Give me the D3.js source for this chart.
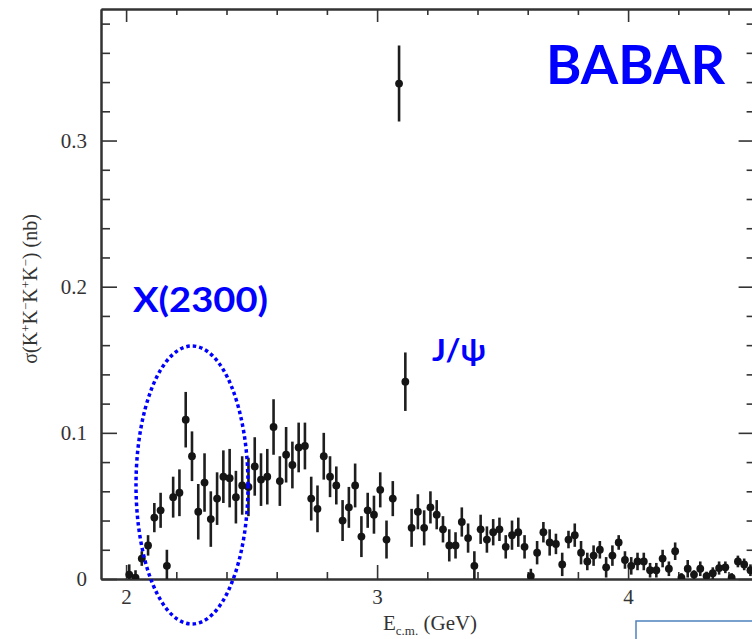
<!DOCTYPE html>
<html>
<head>
<meta charset="utf-8">
<script src="https://cdn.jsdelivr.net/npm/d3@7"></script>
<style>
  body { margin: 0; background: #fff; }
  svg { display: block; }
</style>
</head>
<body>
<div id="chart"></div>
<script>
// bin centres (GeV), 25 MeV bins
const energy = [
  2.0125, 2.0375, 2.0625, 2.0875, 2.1125, 2.1375, 2.1625, 2.1875, 2.2125, 2.2375,
  2.2625, 2.2875, 2.3125, 2.3375, 2.3625, 2.3875, 2.4125, 2.4375, 2.4625, 2.4875,
  2.5125, 2.5375, 2.5625, 2.5875, 2.6125, 2.6375, 2.6625, 2.6875, 2.7125, 2.7375,
  2.7625, 2.7875, 2.8125, 2.8375, 2.8625, 2.8875, 2.9125, 2.9375, 2.9625, 2.9875,
  3.0125, 3.0375, 3.0625, 3.0875, 3.1125, 3.1375, 3.1625, 3.1875, 3.2125, 3.2375,
  3.2625, 3.2875, 3.3125, 3.3375, 3.3625, 3.3875, 3.4125, 3.4375, 3.4625, 3.4875,
  3.5125, 3.5375, 3.5625, 3.5875, 3.6125, 3.6375, 3.6625, 3.6875, 3.7125, 3.7375,
  3.7625, 3.7875, 3.8125, 3.8375, 3.8625, 3.8875, 3.9125, 3.9375, 3.9625, 3.9875,
  4.0125, 4.0375, 4.0625, 4.0875, 4.1125, 4.1375, 4.1625, 4.1875, 4.2125, 4.2375,
  4.2625, 4.2875, 4.3125, 4.3375, 4.3625, 4.3875, 4.4125, 4.4375, 4.4625, 4.4875
];

// cross section (nb)
const sigma = [
  0.003, 0.001, 0.014, 0.023, 0.042, 0.047, 0.009, 0.056, 0.059, 0.109,
  0.084, 0.046, 0.066, 0.041, 0.055, 0.070, 0.069, 0.056, 0.064, 0.063,
  0.077, 0.068, 0.070, 0.104, 0.067, 0.085, 0.078, 0.090, 0.091, 0.055,
  0.048, 0.084, 0.070, 0.064, 0.040, 0.049, 0.064, 0.029, 0.047, 0.044,
  0.061, 0.027, 0.055, 0.339, 0.135, 0.035, 0.046, 0.035, 0.049, 0.044,
  0.034, 0.023, 0.023, 0.039, 0.028, 0.009, 0.034, 0.027, 0.032, 0.034,
  0.022, 0.030, 0.032, 0.022, 0.002, 0.018, 0.032, 0.025, 0.024, 0.010,
  0.027, 0.030, 0.018, 0.012, 0.016, 0.020, 0.008, 0.016, 0.025, 0.013,
  0.009, 0.012, 0.012, 0.006, 0.006, 0.014, 0.007, 0.019, 0.001, 0.007,
  0.003, 0.007, 0.002, 0.004, 0.0075, 0.008, 0.001, 0.012, 0.010, 0.006
];

const sigmaErr = [
  0.007, 0.005, 0.005, 0.007, 0.010, 0.012, 0.011, 0.014, 0.016, 0.019,
  0.017, 0.019, 0.020, 0.019, 0.018, 0.018, 0.020, 0.018, 0.020, 0.020,
  0.020, 0.018, 0.019, 0.019, 0.017, 0.019, 0.016, 0.017, 0.016, 0.015,
  0.016, 0.016, 0.014, 0.013, 0.014, 0.014, 0.015, 0.014, 0.012, 0.013,
  0.012, 0.013, 0.012, 0.026, 0.020, 0.013, 0.012, 0.012, 0.011, 0.010,
  0.009, 0.011, 0.009, 0.010, 0.010, 0.010, 0.010, 0.009, 0.009, 0.008,
  0.008, 0.010, 0.010, 0.008, 0.005, 0.008, 0.007, 0.009, 0.007, 0.008,
  0.006, 0.008, 0.008, 0.006, 0.007, 0.006, 0.007, 0.007, 0.005, 0.006,
  0.006, 0.006, 0.006, 0.005, 0.005, 0.006, 0.005, 0.006, 0.003, 0.006,
  0.003, 0.005, 0.003, 0.004, 0.0045, 0.004, 0.003, 0.004, 0.004, 0.004
];

const xMajor = [2, 3, 4];
const xMinor = [2.2, 2.4, 2.6, 2.8, 3.2, 3.4, 3.6, 3.8, 4.2, 4.4];
const yMajor = [0, 0.1, 0.2, 0.3];
const yMinor = [0.02, 0.04, 0.06, 0.08, 0.12, 0.14, 0.16, 0.18, 0.22, 0.24, 0.26, 0.28, 0.32, 0.34, 0.36, 0.38];

const data = energy.map((e, i) => ({ e: e, s: sigma[i], err: sigmaErr[i] }));

const width = 752;
const height = 639;
const margin = { top: 9, left: 101 };
const plotW = 652.6;
const plotH = 570;

const svg = d3.select("#chart")
    .append("svg")
    .attr("width", width)
    .attr("height", height);

const x = d3.scaleLinear().domain([1.9, 4.5]).range([0, plotW]);
const y = d3.scaleLinear().domain([0, 0.39]).range([plotH, 0]);

const g = svg.append("g")
    .attr("transform", `translate(${margin.left},${margin.top})`);

g.append("clipPath").attr("id", "plotclip")
    .append("rect").attr("width", plotW).attr("height", plotH);

const frameColor = "#333";
const labelFont = "'Liberation Serif', 'Times New Roman', serif";

function styleAxis(sel) {
    sel.selectAll("path.domain").attr("stroke", frameColor).attr("stroke-width", 2);
    sel.selectAll(".tick line").attr("stroke", frameColor).attr("stroke-width", 1.6);
    sel.selectAll(".tick text")
        .attr("fill", "#333")
        .style("font-family", labelFont)
        .style("font-size", "21px");
}

// --- axes, ticks pointing inwards ---
g.append("g").attr("transform", `translate(0,${plotH})`)
    .call(d3.axisBottom(x).tickValues(xMajor).tickFormat(d3.format("d"))
        .tickSizeInner(-14).tickSizeOuter(0).tickPadding(10))
    .call(styleAxis);
g.append("g").attr("transform", `translate(0,${plotH})`)
    .call(d3.axisBottom(x).tickValues(xMinor).tickFormat("").tickSizeInner(-7).tickSizeOuter(0))
    .call(styleAxis);

g.append("g")
    .call(d3.axisTop(x).tickValues(xMajor).tickFormat("").tickSizeInner(-13).tickSizeOuter(0))
    .call(styleAxis);
g.append("g")
    .call(d3.axisTop(x).tickValues(xMinor).tickFormat("").tickSizeInner(-6).tickSizeOuter(0))
    .call(styleAxis);

g.append("g")
    .call(d3.axisLeft(y).tickValues(yMajor).tickFormat(d => d === 0 ? "0" : d3.format(".1f")(d))
        .tickSizeInner(-16).tickSizeOuter(0).tickPadding(14))
    .call(styleAxis);
g.append("g")
    .call(d3.axisLeft(y).tickValues(yMinor).tickFormat("").tickSizeInner(-9).tickSizeOuter(0))
    .call(styleAxis);

g.append("g").attr("transform", `translate(${plotW},0)`)
    .call(d3.axisRight(y).tickValues(yMajor).tickFormat("").tickSizeInner(-15).tickSizeOuter(0))
    .call(styleAxis);
g.append("g").attr("transform", `translate(${plotW},0)`)
    .call(d3.axisRight(y).tickValues(yMinor).tickFormat("").tickSizeInner(-7).tickSizeOuter(0))
    .call(styleAxis);

// --- data points with error bars ---
const pts = g.append("g").attr("clip-path", "url(#plotclip)");

pts.selectAll("line.err")
    .data(data)
    .enter()
    .append("line")
    .attr("class", "err")
    .attr("x1", d => x(d.e))
    .attr("x2", d => x(d.e))
    .attr("y1", d => y(d.s - d.err))
    .attr("y2", d => y(d.s + d.err))
    .attr("stroke", "#1e1e1e")
    .attr("stroke-width", 2.6);

pts.selectAll("circle")
    .data(data)
    .enter()
    .append("circle")
    .attr("cx", d => x(d.e))
    .attr("cy", d => y(d.s))
    .attr("r", 3.9)
    .attr("fill", "#151515");

// --- axis titles ---
const xt = svg.append("text")
    .attr("x", 383)
    .attr("y", 630)
    .attr("fill", "#333")
    .style("font-family", labelFont)
    .style("font-size", "21px");
xt.append("tspan").text("E");
xt.append("tspan").attr("dy", 5).style("font-size", "13px").text("c.m.");
xt.append("tspan").attr("dy", -5).text(" (GeV)");

const yt = svg.append("text")
    .attr("transform", "translate(37,289) rotate(-90)")
    .attr("text-anchor", "middle")
    .attr("fill", "#333")
    .style("font-family", labelFont)
    .style("font-size", "20px");
yt.append("tspan").text("σ(K");
yt.append("tspan").attr("dy", -7).style("font-size", "13px").text("+");
yt.append("tspan").attr("dy", 7).text("K");
yt.append("tspan").attr("dy", -7).style("font-size", "13px").text("−");
yt.append("tspan").attr("dy", 7).text("K");
yt.append("tspan").attr("dy", -7).style("font-size", "13px").text("+");
yt.append("tspan").attr("dy", 7).text("K");
yt.append("tspan").attr("dy", -7).style("font-size", "13px").text("−");
yt.append("tspan").attr("dy", 7).text(") (nb)");

// --- annotations ---
const blue = "#0000ff";
const annFont = "Lato, 'Open Sans', sans-serif";

svg.append("text")
    .attr("x", 546).attr("y", 84)
    .attr("fill", blue)
    .attr("textLength", 179).attr("lengthAdjust", "spacingAndGlyphs")
    .style("font-family", annFont).style("font-weight", "bold").style("font-size", "54px")
    .text("BABAR");

svg.append("text")
    .attr("x", 133).attr("y", 312)
    .attr("fill", blue)
    .attr("textLength", 135).attr("lengthAdjust", "spacingAndGlyphs")
    .style("font-family", annFont).style("font-weight", "bold").style("font-size", "35px")
    .text("X(2300)");

svg.append("text")
    .attr("x", 432).attr("y", 361)
    .attr("fill", blue)
    .attr("textLength", 54).attr("lengthAdjust", "spacingAndGlyphs")
    .style("font-family", annFont).style("font-weight", "bold").style("font-size", "31px")
    .text("J/ψ");

svg.append("ellipse")
    .attr("cx", 192).attr("cy", 485)
    .attr("rx", 56).attr("ry", 139)
    .attr("fill", "none")
    .attr("stroke", blue)
    .attr("stroke-width", 3.5)
    .attr("stroke-dasharray", "3.5 3");

svg.append("rect")
    .attr("x", 636).attr("y", 621)
    .attr("width", 200).attr("height", 100)
    .attr("fill", "none")
    .attr("stroke", "#4f81bd")
    .attr("stroke-width", 1.5);
</script>
</body>
</html>
